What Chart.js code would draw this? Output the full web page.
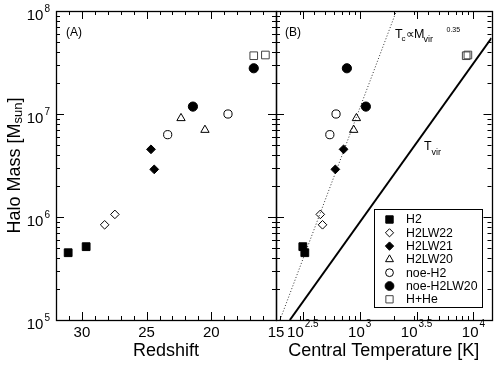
<!DOCTYPE html>
<html>
<head>
<meta charset="utf-8">
<script src="https://cdn.jsdelivr.net/npm/chart.js@4.4.1/dist/chart.umd.min.js"></script>
<style>
  body { margin: 0; background: #fff; }
  #wrap { position: relative; width: 498px; height: 366px; }
  canvas { position: absolute; left: 0; top: 0; }
</style>
</head>
<body>
<div id="wrap">
  <canvas id="panelA" width="498" height="366"></canvas>
  <canvas id="panelB" width="498" height="366"></canvas>
</div>
<script>
// values, one pair of runs per series
const seriesNames = ["H2", "H2LW22", "H2LW21", "H2LW20", "noe-H2", "noe-H2LW20", "H+He"];

const massH2 = [4.5e5, 5.15e5];
const redshiftH2 = [31.06, 29.67];
const tempH2 = [329, 316];

const massH2LW22 = [8.4e5, 1.06e6];
const redshiftH2LW22 = [28.24, 27.45];
const tempH2LW22 = [471, 450];

const massH2LW21 = [4.54e6, 2.9e6];
const redshiftH2LW21 = [24.66, 24.41];
const tempH2LW21 = [721, 610];

const massH2LW20 = [9.1e6, 7.0e6];
const redshiftH2LW20 = [22.34, 20.49];
const tempH2LW20 = [935, 885];

const massNoeH2 = [6.3e6, 1.0e7];
const redshiftNoeH2 = [23.37, 18.71];
const tempNoeH2 = [546, 619];

const massNoeH2LW20 = [1.18e7, 2.78e7];
const redshiftNoeH2LW20 = [21.42, 16.72];
const tempNoeH2LW20 = [1132, 771];

const massHHe = [3.68e7, 3.74e7];
const redshiftHHe = [16.72, 15.82];
const tempHHe = [8630, 8930];

// reference lines in panel B (end points)
const tvirTemp = [243, 14400];
const tvirMass = [1.0e5, 5.47e7];
const tcTemp = [199, 2100];
const tcMass = [1.0e5, 1.0e8];

// tick labels
const redshiftTicks = [30, 25, 20, 15];
const massTickExps = [5, 6, 7, 8];
const tempTickExps = ["2.5", "3", "3.5", "4"];

const FONT = '"Liberation Sans", Arial, Helvetica, sans-serif';

const styles = [
  { pointStyle: "rect", radius: 5.5, fill: "#000", stroke: "#000" },
  { pointStyle: "rectRot", radius: 4.3, fill: "rgba(0,0,0,0)", stroke: "#000" },
  { pointStyle: "rectRot", radius: 4.4, fill: "#000", stroke: "#000" },
  { pointStyle: "triangle", radius: 4.8, fill: "rgba(0,0,0,0)", stroke: "#000" },
  { pointStyle: "circle", radius: 4.1, fill: "rgba(0,0,0,0)", stroke: "#000" },
  { pointStyle: "circle", radius: 4.6, fill: "#000", stroke: "#000" },
  { pointStyle: "rect", radius: 5.4, fill: "rgba(0,0,0,0)", stroke: "#444" },
];

const massSets = [massH2, massH2LW22, massH2LW21, massH2LW20, massNoeH2, massNoeH2LW20, massHHe];
const redshiftSets = [redshiftH2, redshiftH2LW22, redshiftH2LW21, redshiftH2LW20, redshiftNoeH2, redshiftNoeH2LW20, redshiftHHe];
const tempSets = [tempH2, tempH2LW22, tempH2LW21, tempH2LW20, tempNoeH2, tempNoeH2LW20, tempHHe];

function pointSet(i, xs) {
  const s = styles[i];
  return {
    label: seriesNames[i],
    data: xs.map((v, k) => ({ x: v, y: massSets[i][k] })),
    pointStyle: s.pointStyle,
    pointRadius: s.radius,
    pointBackgroundColor: s.fill,
    pointBorderColor: s.stroke,
    pointBorderWidth: 1,
    showLine: false,
  };
}

function lineSet(xs, ys, width, dash, color) {
  return {
    data: xs.map((v, k) => ({ x: v, y: ys[k] })),
    showLine: true,
    pointRadius: 0,
    borderColor: color,
    borderWidth: width,
    borderDash: dash,
    clip: 0,
  };
}

// tick positions
const massMinor = [];
for (let e = 5; e < 8; e++) for (let k = 2; k <= 9; k++) massMinor.push(k * Math.pow(10, e));
const massMajor = massTickExps.map(e => Math.pow(10, e));
const redshiftMinor = [];
for (let z = 15; z <= 32; z++) if (z % 5 !== 0) redshiftMinor.push(z);
const tempMinor = [];
for (let e = 2; e < 5; e++) for (let k = 2; k <= 9; k++) tempMinor.push(k * Math.pow(10, e));
const tempMajor = tempTickExps.map(e => Math.pow(10, parseFloat(e)));

function drawPower(ctx, exp, x, y, align, supRise) {
  ctx.font = "15px " + FONT;
  const wb = ctx.measureText("10").width;
  ctx.font = "10px " + FONT;
  const we = ctx.measureText(exp).width;
  const total = wb + 1 + we;
  const left = align === "center" ? x - total / 2 : x - total;
  ctx.font = "15px " + FONT;
  ctx.fillText("10", left, y);
  ctx.font = "10px " + FONT;
  ctx.fillText(exp, left + wb + 1, y - supRise);
}

function frame(xMinor, xMajor) {
  return {
    id: "frame",
    afterDatasetsDraw(chart) {
      const { ctx, chartArea: a, scales } = chart;
      const sx = scales.x, sy = scales.y;
      ctx.save();
      ctx.strokeStyle = "#000";
      ctx.lineWidth = 1;
      ctx.beginPath();
      const xt = (v, len) => {
        if (v < sx.min || v > sx.max) return;
        const px = Math.round(sx.getPixelForValue(v)) + 0.5;
        ctx.moveTo(px, a.bottom); ctx.lineTo(px, a.bottom - len);
        ctx.moveTo(px, a.top); ctx.lineTo(px, a.top + len);
      };
      const yt = (v, len) => {
        const py = Math.round(sy.getPixelForValue(v)) + 0.5;
        ctx.moveTo(a.left, py); ctx.lineTo(a.left + len, py);
        ctx.moveTo(a.right, py); ctx.lineTo(a.right - len, py);
      };
      xMinor.forEach(v => xt(v, 4));
      xMajor.forEach(v => xt(v, 8));
      massMinor.forEach(v => yt(v, 4));
      massMajor.forEach(v => yt(v, 8));
      ctx.stroke();
      ctx.lineWidth = 1.3;
      ctx.strokeRect(Math.round(a.left) + 0.5, Math.round(a.top) + 0.5,
        Math.round(a.right - a.left), Math.round(a.bottom - a.top));
      ctx.restore();
    },
  };
}

const panelADecor = {
  id: "decorA",
  afterDraw(chart) {
    const { ctx, chartArea: a, scales } = chart;
    ctx.save();
    ctx.fillStyle = "#000";
    ctx.textBaseline = "alphabetic";
    // y tick labels
    massTickExps.forEach(e => {
      const py = scales.y.getPixelForValue(Math.pow(10, e));
      drawPower(ctx, String(e), 50, py + 8.5, "right", 8);
    });
    // x tick labels
    ctx.font = "15px " + FONT;
    ctx.textAlign = "center";
    redshiftTicks.forEach(z => {
      ctx.fillText(String(z), scales.x.getPixelForValue(z), 336.5);
    });
    ctx.textAlign = "left";
    ctx.font = "12px " + FONT;
    ctx.fillText("(A)", 66, 35.5);
    // axis titles
    ctx.font = "18px " + FONT;
    ctx.textAlign = "center";
    ctx.fillText("Redshift", (a.left + a.right) / 2, 355.5);
    ctx.save();
    ctx.translate(19.5, (a.top + a.bottom) / 2);
    ctx.rotate(-Math.PI / 2);
    ctx.textAlign = "left";
    ctx.font = "18px " + FONT;
    const p1 = "Halo Mass [M";
    const w1 = ctx.measureText(p1).width;
    ctx.font = "13px " + FONT;
    const w2 = ctx.measureText("sun").width;
    ctx.font = "18px " + FONT;
    const w3 = ctx.measureText("]").width;
    let x0 = -(w1 + w2 + w3) / 2;
    ctx.fillText(p1, x0, 0);
    ctx.font = "13px " + FONT;
    ctx.fillText("sun", x0 + w1, 2);
    ctx.font = "18px " + FONT;
    ctx.fillText("]", x0 + w1 + w2, 0);
    ctx.restore();
    ctx.restore();
  },
};

const panelBDecor = {
  id: "decorB",
  afterDraw(chart) {
    const { ctx, chartArea: a, scales } = chart;
    ctx.save();
    ctx.fillStyle = "#000";
    ctx.textBaseline = "alphabetic";
    ctx.textAlign = "left";
    tempTickExps.forEach(e => {
      const px = scales.x.getPixelForValue(Math.pow(10, parseFloat(e)));
      drawPower(ctx, e, px, 336.5, "center", 10);
    });
    ctx.font = "12px " + FONT;
    ctx.fillText("(B)", 285, 35.5);
    ctx.font = "18px " + FONT;
    ctx.textAlign = "center";
    ctx.fillText("Central Temperature [K]", (a.left + a.right) / 2, 355.5);
    ctx.textAlign = "left";
    // line annotations
    ctx.font = "12.5px " + FONT;
    ctx.fillText("T", 395, 38);
    ctx.font = "8px " + FONT;
    ctx.fillText("c", 401.5, 40.5);
    ctx.font = "12px " + FONT;
    ctx.fillText("\u221D", 406, 38);
    ctx.font = "12.5px " + FONT;
    ctx.fillText("M", 414, 38);
    ctx.font = "9px " + FONT;
    ctx.fillText("vir", 423.5, 41.5);
    ctx.font = "7px " + FONT;
    ctx.fillText("0.35", 446.5, 31.5);
    ctx.font = "12.5px " + FONT;
    ctx.fillText("T", 424, 149.5);
    ctx.font = "9px " + FONT;
    ctx.fillText("vir", 431.5, 155);
    // legend
    const box = { l: 374.5, t: 209.5, r: 482.5, b: 307.5 };
    ctx.fillStyle = "#fff";
    ctx.fillRect(box.l, box.t, box.r - box.l, box.b - box.t);
    ctx.strokeStyle = "#000";
    ctx.lineWidth = 1;
    ctx.strokeRect(box.l, box.t, box.r - box.l, box.b - box.t);
    ctx.font = "12.3px " + FONT;
    ctx.textBaseline = "middle";
    seriesNames.forEach((name, i) => {
      const s = styles[i];
      const y = 219.5 + i * 13.3;
      ctx.fillStyle = s.fill;
      ctx.strokeStyle = s.stroke;
      ctx.lineWidth = 1;
      Chart.helpers.drawPoint(ctx, { pointStyle: s.pointStyle, radius: s.radius * 0.95, borderWidth: 1, rotation: 0 }, 389.5, y);
      ctx.fillStyle = "#000";
      ctx.fillText(name, 406, y + 0.5);
    });
    ctx.restore();
  },
};

const common = {
  responsive: false,
  animation: false,
  events: [],
  plugins: { legend: { display: false }, tooltip: { enabled: false } },
};

new Chart(document.getElementById("panelA"), {
  type: "scatter",
  data: { datasets: seriesNames.map((n, i) => pointSet(i, redshiftSets[i])) },
  options: {
    ...common,
    layout: { padding: { left: 56, right: 222, top: 11, bottom: 46 } },
    scales: {
      x: { type: "linear", min: 15, max: 32, reverse: true, bounds: "data", display: false },
      y: { type: "logarithmic", min: 1e5, max: 1e8, bounds: "data", display: false },
    },
  },
  plugins: [frame(redshiftMinor, redshiftTicks), panelADecor],
});

new Chart(document.getElementById("panelB"), {
  type: "scatter",
  data: {
    datasets: seriesNames.map((n, i) => pointSet(i, tempSets[i])).concat([
      lineSet(tcTemp, tcMass, 1, [1, 2], "#333"),
      lineSet(tvirTemp, tvirMass, 2, [], "#000"),
    ]),
  },
  options: {
    ...common,
    layout: { padding: { left: 276, right: 3, top: 11, bottom: 46 } },
    scales: {
      x: { type: "logarithmic", min: 183.6, max: 14400, bounds: "data", display: false },
      y: { type: "logarithmic", min: 1e5, max: 1e8, bounds: "data", display: false },
    },
  },
  plugins: [frame(tempMinor, tempMajor), panelBDecor],
});
</script>
</body>
</html>
